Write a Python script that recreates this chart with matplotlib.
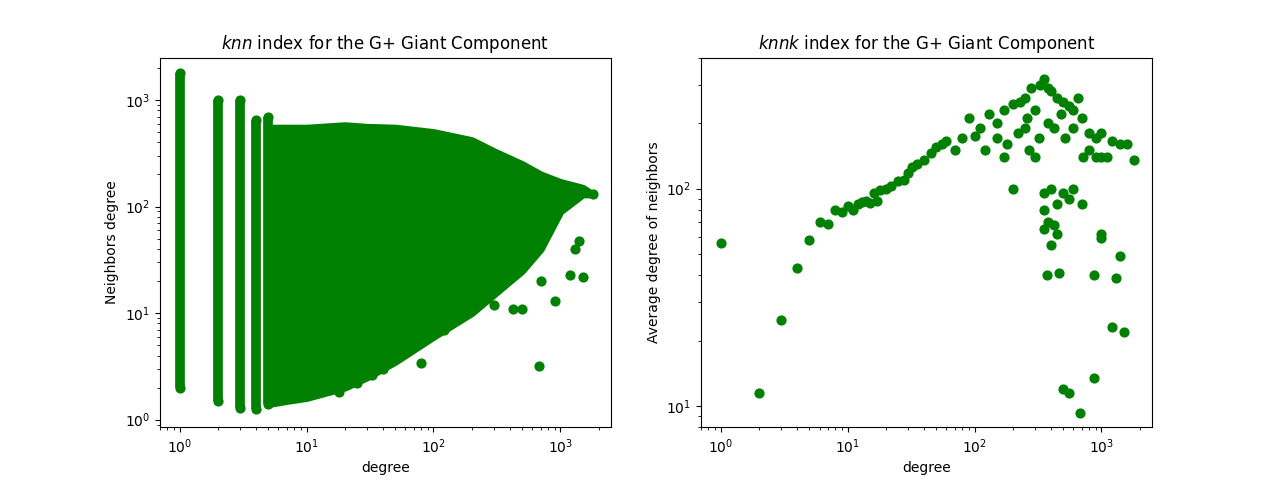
import matplotlib
matplotlib.use("Agg")
import matplotlib.pyplot as plt
import numpy as np

GREEN = "green"

# left panel: low-degree columns (degree, min, max neighbor degree)
col_k = [1, 2, 3, 4, 5]
col_lo = [2.0, 1.5, 1.3, 1.25, 1.4]
col_hi = [1800, 1000, 1000, 650, 700]

# envelope of the dense cloud for degree >= 5
env_k = [5, 7, 10, 20, 30, 50, 100, 200, 300, 500, 700, 1000, 1500, 1800]
env_lo = [1.4, 1.5, 1.6, 2.0, 2.5, 3.5, 6, 10, 15, 25, 40, 90, 130, 130]
env_hi = [550, 550, 550, 580, 560, 550, 500, 420, 330, 250, 200, 170, 150, 130]

# stray points outside the cloud
out_k = [18, 25, 33, 40, 55, 80, 60, 120, 150, 200, 250, 300, 420, 500, 680,
         900, 700, 800, 1200, 1300, 1500, 1400, 1800, 650]
out_y = [1.8, 2.2, 2.6, 3, 4.5, 3.4, 5, 7, 10, 12, 16, 12, 11, 11, 3.2,
         13, 20, 60, 23, 40, 22, 48, 130, 45]

# right panel: average neighbor degree per degree
knnk_k = [1, 2, 3, 4, 5, 6, 7, 8, 9, 10, 11, 12, 13, 14, 15, 16, 17, 18, 20, 22,
          25, 28, 30, 32, 35, 40, 45, 50, 55, 60, 70, 80, 90, 100, 110, 130, 150,
          170, 200, 230, 250, 280, 300, 330, 350, 380, 400, 450, 500, 550, 600,
          650, 700, 800, 900, 1000, 1100, 1200, 1400, 1600, 1800,
          200, 300, 350, 400, 450, 500, 550, 600, 700, 350, 380, 400, 420, 450,
          350, 370, 460, 500, 550, 680, 880, 880, 1000, 1000, 1200, 1300, 1400,
          1500, 250, 150, 120, 180, 220, 260, 320, 380, 420, 480, 520, 600, 720,
          800, 900, 1000, 170, 270]
knnk_y = [56, 11.5, 25, 43, 58, 70, 69, 80, 78, 83, 80, 85, 87, 88, 86, 95, 88,
          98, 100, 103, 108, 110, 118, 125, 130, 135, 145, 155, 160, 165, 150,
          170, 210, 175, 190, 220, 200, 230, 245, 250, 260, 290, 230, 300, 320,
          290, 280, 260, 250, 240, 230, 260, 210, 180, 170, 180, 140, 165, 160,
          160, 135,
          100, 140, 95, 100, 85, 95, 90, 100, 85, 80, 70, 55, 68, 62, 65, 40,
          41, 12, 11.5, 9.3, 13.5, 40, 62, 59, 23, 39, 49, 22, 190, 170, 150,
          160, 180, 210, 170, 200, 190, 220, 170, 190, 140, 150, 140, 140, 140,
          150]

fig, (ax1, ax2) = plt.subplots(1, 2, figsize=(12.8, 4.8), dpi=100)

ax1.vlines(col_k, col_lo, col_hi, color=GREEN, linewidth=7)
ax1.scatter(col_k + col_k, col_lo + col_hi, color=GREEN, s=40)
ax1.fill_between(env_k, env_lo, env_hi, color=GREEN, linewidth=5, edgecolor=GREEN)
ax1.scatter(out_k, out_y, color=GREEN, s=40)
ax1.set_xscale("log")
ax1.set_yscale("log")
ax1.set_xlim(0.7, 2500)
ax1.set_ylim(0.85, 2500)
ax1.set_xlabel("degree")
ax1.set_ylabel("Neighbors degree")
ax1.set_title("$knn$ index for the G+ Giant Component")

ax2.scatter(knnk_k, knnk_y, color=GREEN, s=40)
ax2.set_xscale("log")
ax2.set_yscale("log")
ax2.set_xlim(0.7, 2500)
ax2.set_ylim(8, 400)
ax2.set_xlabel("degree")
ax2.set_ylabel("Average degree of neighbors")
ax2.set_title("$knnk$ index for the G+ Giant Component")

plt.savefig("out.png", dpi=100)
